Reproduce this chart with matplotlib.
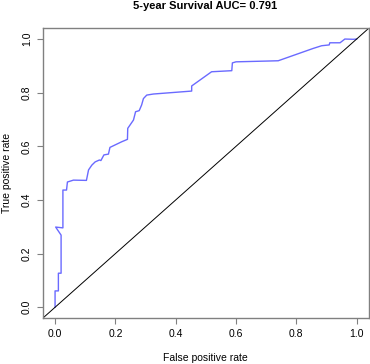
import numpy as np
from matplotlib import pyplot as plt

plt.rcParams['font.family'] = ['Liberation Sans', 'DejaVu Sans']

# ROC curve
fpr = [0.000, 0.000, 0.011, 0.011, 0.020, 0.020, 0.002, 0.026, 0.026, 0.038,
       0.041, 0.061, 0.104, 0.111, 0.122, 0.133, 0.147, 0.152, 0.162, 0.177,
       0.182, 0.221, 0.240, 0.241, 0.260, 0.267, 0.279, 0.287, 0.293, 0.304,
       0.326, 0.453, 0.453, 0.519, 0.586, 0.588, 0.600, 0.707, 0.740, 0.856,
       0.884, 0.909, 0.911, 0.945, 0.961, 0.989, 1.000]
tpr = [0.000, 0.061, 0.061, 0.127, 0.127, 0.269, 0.299, 0.296, 0.437, 0.437,
       0.467, 0.474, 0.473, 0.512, 0.530, 0.542, 0.549, 0.547, 0.568, 0.571,
       0.596, 0.617, 0.626, 0.667, 0.698, 0.729, 0.733, 0.754, 0.778, 0.791,
       0.795, 0.806, 0.825, 0.878, 0.882, 0.911, 0.915, 0.918, 0.919, 0.965,
       0.975, 0.978, 0.986, 0.986, 1.000, 0.999, 1.000]
auc = 0.791
ticks = [0.0, 0.2, 0.4, 0.6, 0.8, 1.0]

fig = plt.figure(figsize=(3.7, 3.64), dpi=100)
ax = fig.add_axes([43 / 370, 46 / 364, 325.7 / 370, 289.7 / 364])

ax.plot(fpr, tpr, color='#6a6aff', lw=1.0)
ax.axline((0, 0), slope=1, color='black', lw=0.7)

ax.set_xlim(-0.04, 1.04)
ax.set_ylim(-0.04, 1.04)
ax.set_xticks(ticks)
ax.set_yticks(ticks)
ax.set_xticklabels(['%.1f' % t for t in ticks])
ax.set_yticklabels(['%.1f' % t for t in ticks], rotation=90, va='center')
ax.tick_params(length=4, width=0.8, color='#808080', labelsize=7.5, pad=4)
for s in ax.spines.values():
    s.set_color('#808080')
    s.set_linewidth(1.0)

ax.set_xlabel('False positive rate', fontsize=7.5)
ax.set_ylabel('True positive rate', fontsize=7.5)
ax.xaxis.set_label_coords(0.5, (318 - 358) / 289.7)
ax.xaxis.label.set_va('center')
ax.yaxis.set_label_coords((7 - 43) / 325.7, 0.5)
ax.yaxis.label.set_va('center')
fig.text(205 / 370, 1 - 6 / 364, '5-year Survival AUC= %.3f' % auc,
         ha='center', va='center', fontsize=8, fontweight='bold')

fig.savefig('out.png', dpi=100)
